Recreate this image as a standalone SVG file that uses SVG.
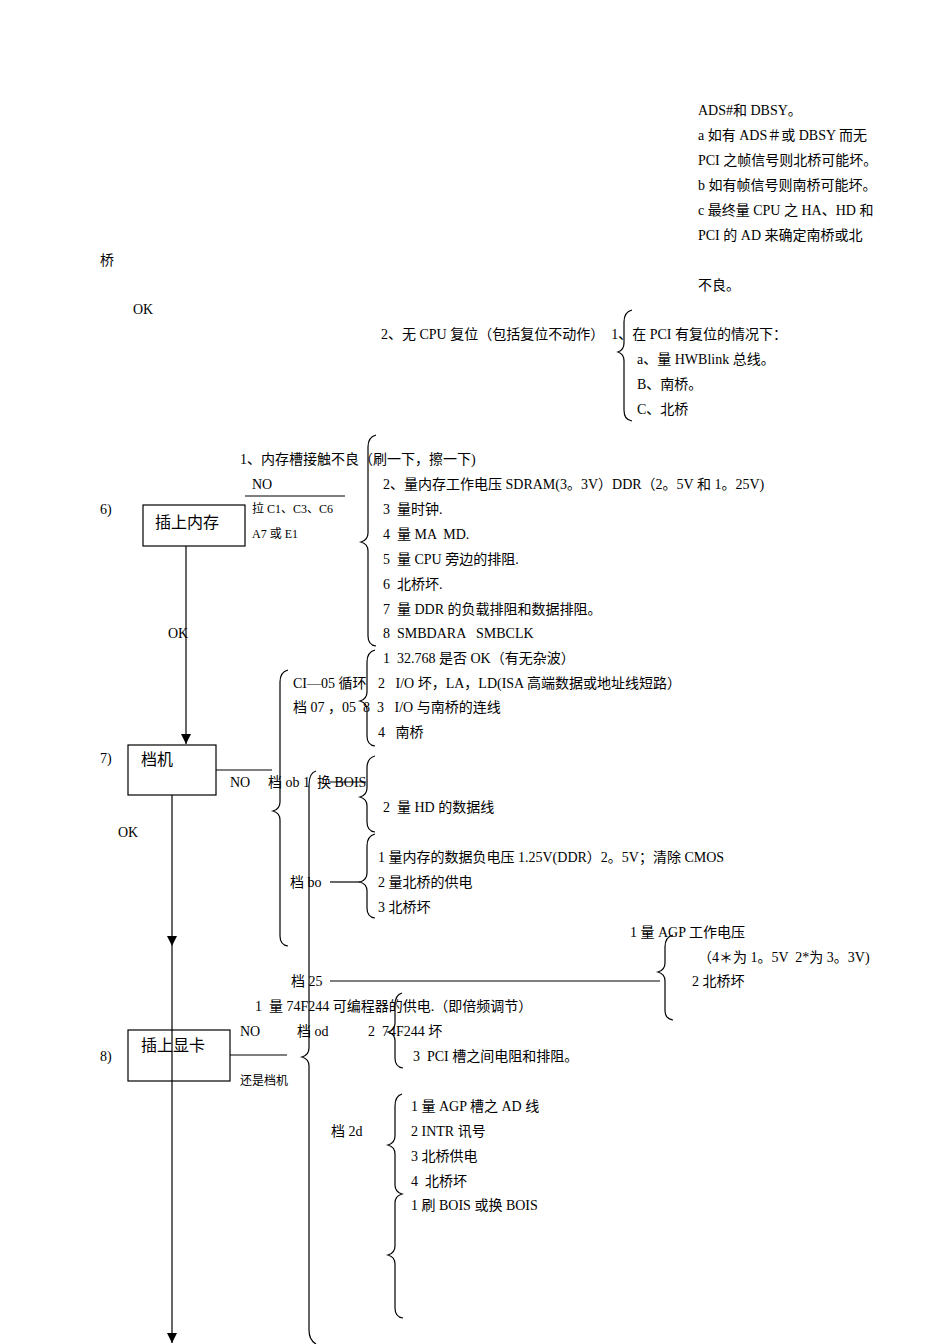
<svg xmlns="http://www.w3.org/2000/svg" width="950" height="1344" viewBox="0 0 950 1344">
<style>
text{font-family:"Liberation Serif","Noto Sans CJK SC",serif;font-size:14px;fill:#000;white-space:pre}
.s{font-size:12px}
.b{font-size:16px;font-family:"Noto Sans CJK SC",sans-serif}
.l{stroke:#000;stroke-width:1.2;fill:none}
</style>
<defs>
<marker id="ar" viewBox="0 0 10 10" markerWidth="10" markerHeight="10" refX="10" refY="5" orient="auto" markerUnits="userSpaceOnUse"><path d="M0,0 L10,5 L0,10 Z"/></marker></defs>
<g id="texts" xml:space="preserve">
<text x="698" y="115">ADS#和 DBSY。</text>
<text x="698" y="140">a 如有 ADS＃或 DBSY 而无</text>
<text x="698" y="165">PCI 之帧信号则北桥可能坏。</text>
<text x="698" y="190">b 如有帧信号则南桥可能坏。</text>
<text x="698" y="215">c 最终量 CPU 之 HA、HD 和</text>
<text x="698" y="240">PCI 的 AD 来确定南桥或北</text>
<text x="100" y="265">桥</text>
<text x="698" y="290">不良。</text>
<text x="133" y="314">OK</text>
<text x="381" y="339">2、无 CPU 复位（包括复位不动作）  1、在 PCI 有复位的情况下：</text>
<text x="637" y="364">a、量 HWBlink 总线。</text>
<text x="637" y="389">B、南桥。</text>
<text x="637" y="414">C、北桥</text>
<text x="240" y="464">1、内存槽接触不良（刷一下，擦一下)</text>
<text x="252" y="489">NO</text>
<text x="383" y="489">2、量内存工作电压 SDRAM(3。3V）DDR（2。5V 和 1。25V)</text>
<text x="252" y="513" class="s">拉 C1、C3、C6</text>
<text x="100" y="514">6)</text>
<text x="383" y="514">3  量时钟.</text>
<text x="252" y="538" class="s">A7 或 E1</text>
<text x="383" y="539">4  量 MA  MD.</text>
<text x="383" y="564">5  量 CPU 旁边的排阻.</text>
<text x="383" y="589">6  北桥坏.</text>
<text x="383" y="614">7  量 DDR 的负载排阻和数据排阻。</text>
<text x="168" y="638">OK</text>
<text x="383" y="638">8  SMBDARA   SMBCLK</text>
<text x="383" y="663">1  32.768 是否 OK（有无杂波）</text>
<text x="293" y="688">CI—05 循环</text>
<text x="378" y="688">2   I/O 坏，LA，LD(ISA 高端数据或地址线短路）</text>
<text x="293" y="712">档 07 ，05  8  3   I/O 与南桥的连线</text>
<text x="378" y="737">4   南桥</text>
<text x="100" y="763">7)</text>
<text x="230" y="787">NO</text>
<text x="268" y="787">档 ob 1  换 BOIS</text>
<text x="383" y="812">2  量 HD 的数据线</text>
<text x="118" y="837">OK</text>
<text x="378" y="862">1 量内存的数据负电压 1.25V(DDR）2。5V；清除 CMOS</text>
<text x="290" y="887">档 bo</text>
<text x="378" y="887">2 量北桥的供电</text>
<text x="378" y="912">3 北桥坏</text>
<text x="630" y="937">1 量 AGP 工作电压</text>
<text x="698" y="962">（4＊为 1。5V  2*为 3。3V)</text>
<text x="291" y="986">档 25</text>
<text x="692" y="986">2 北桥坏</text>
<text x="255" y="1011">1  量 74F244 可编程器的供电.（即倍频调节）</text>
<text x="240" y="1036">NO</text>
<text x="297" y="1036">档 od</text>
<text x="368" y="1036">2  74F244 坏</text>
<text x="100" y="1061">8)</text>
<text x="413" y="1061">3  PCI 槽之间电阻和排阻。</text>
<text x="240" y="1085" class="s">还是档机</text>
<text x="411" y="1111">1 量 AGP 槽之 AD 线</text>
<text x="331" y="1136">档 2d</text>
<text x="411" y="1136">2 INTR 讯号</text>
<text x="411" y="1161">3 北桥供电</text>
<text x="411" y="1186">4  北桥坏</text>
<text x="411" y="1210">1 刷 BOIS 或换 BOIS</text>
</g>
<g id="n1"><rect x="143" y="505" width="102" height="41" class="l"/><text x="155" y="528" class="b">插上内存</text></g>
<g id="n2"><rect x="128" y="745" width="88" height="50" class="l"/><text x="141" y="765" class="b">档机</text></g>
<g id="n3"><rect x="128" y="1030" width="102" height="51" class="l"/><text x="141" y="1051" class="b">插上显卡</text></g>
<g id="connectors" class="l">
<line x1="186" y1="546" x2="186" y2="744" marker-end="url(#ar)"/>
<line x1="172" y1="795" x2="172" y2="946" marker-end="url(#ar)"/>
<line x1="172" y1="946" x2="172" y2="1343" marker-end="url(#ar)"/>
<line x1="216" y1="770" x2="272" y2="770"/>
<line x1="230" y1="1055" x2="287" y2="1055"/>
<line x1="245" y1="496" x2="345" y2="496"/>
<line x1="330" y1="882" x2="360" y2="882"/>
<line x1="330" y1="981" x2="660" y2="981"/>
<line x1="330" y1="782" x2="366" y2="782"/>
<path d="M632,310 Q624,312 624,322 L624,343 Q624,350 618,352 Q624,354 624,361 L624,410 Q624,420 632,421"/>
<path d="M376,435 Q368,437 368,447 L368,533 Q368,540 361,542 Q368,544 368,551 L368,636 Q368,645 376,646"/>
<path d="M375,650 Q367,652 367,662 L367,692 Q367,699 360,701 Q367,703 367,710 L367,736 Q367,745 375,746"/>
<path d="M288,670 Q280,672 280,682 L280,802 Q280,809 273,811 Q280,813 280,820 L280,936 Q280,945 288,946"/>
<path d="M375,756 Q367,758 367,768 L367,788 Q367,795 360,797 Q367,799 367,806 L367,822 Q367,831 375,832"/>
<path d="M375,834 Q367,836 367,846 L367,873 Q367,880 360,882 Q367,884 367,891 L367,908 Q367,917 375,918"/>
<path d="M673,935 Q665,937 665,947 L665,963 Q665,970 658,972 Q665,974 665,981 L665,1010 Q665,1019 673,1020"/>
<path d="M316,771 Q309,773 309,785 L309,1048 Q309,1055 302,1057 Q309,1059 309,1066 L309,1330 Q309,1340 316,1344"/>
<path d="M402,993 Q395,995 395,1005 L395,1023 Q395,1030 388,1032 Q395,1034 395,1041 L395,1058 Q395,1067 403,1068"/>
<path d="M402,1094 Q395,1096 395,1106 L395,1136 Q395,1143 388,1145 Q395,1147 395,1154 L395,1185 Q395,1192 402,1194 Q395,1196 395,1203 L395,1246 Q395,1253 388,1255 Q395,1257 395,1264 L395,1308 Q395,1317 403,1318"/>
</g>
</svg>
